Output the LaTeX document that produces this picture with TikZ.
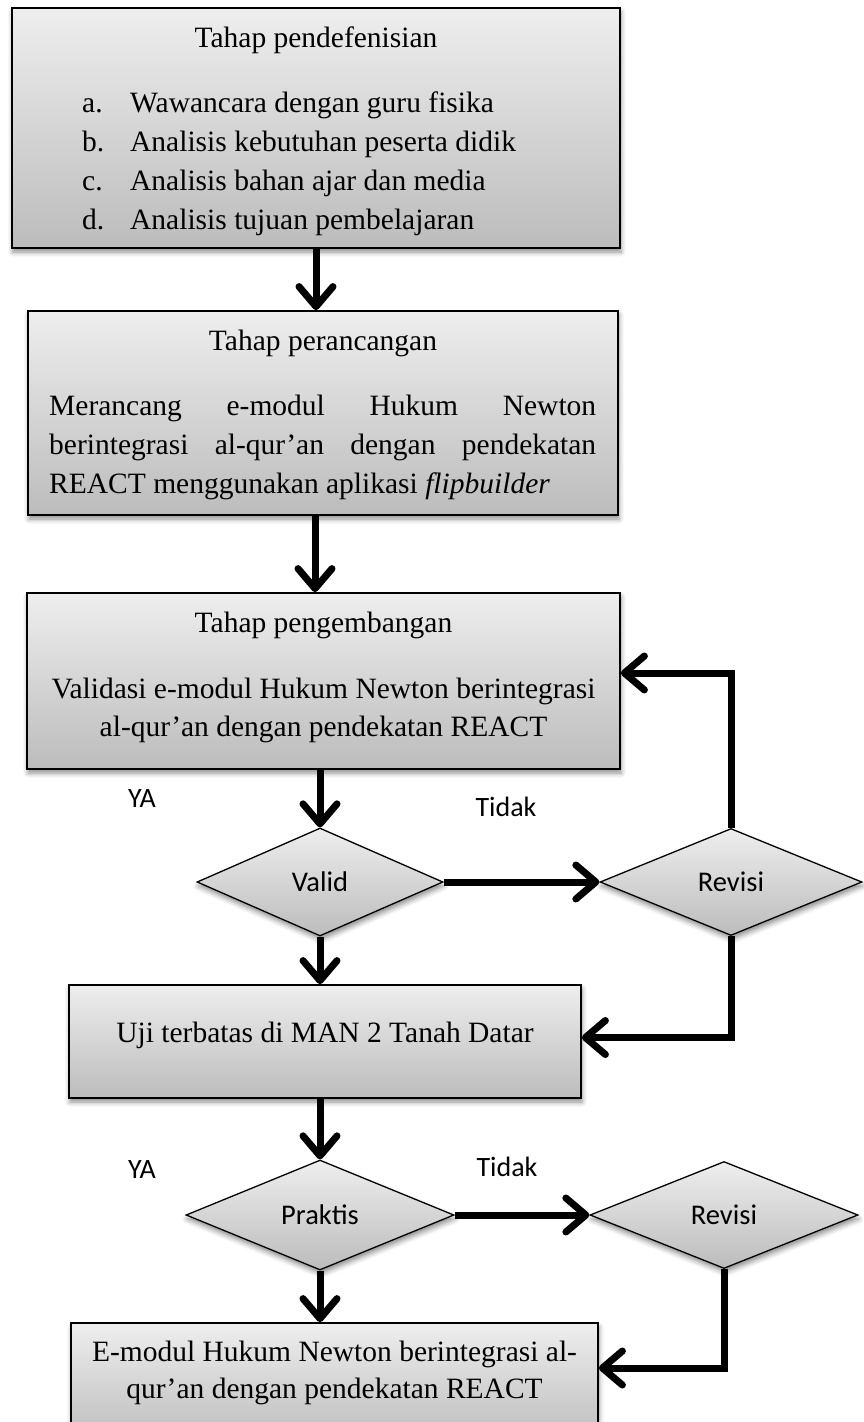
\documentclass[tikz,border=0pt]{standalone}
\usepackage{fontspec}
\setmainfont{Liberation Serif}
\newfontfamily\calfont{Carlito}
\usetikzlibrary{arrows.meta,shapes.geometric,shadows.blur}
\definecolor{gtop}{RGB}{238,238,238}
\definecolor{gbot}{RGB}{188,188,188}
\tikzset{
  shad/.style={blur shadow={shadow xshift=1pt, shadow yshift=-4pt, shadow blur radius=5pt, shadow opacity=45}},
  box/.style={rectangle, draw=black, line width=1.8pt, top color=gtop, bottom color=gbot, inner sep=0pt, shad},
  dia/.style={diamond, draw=black, line width=1.3pt, top color=gtop, bottom color=gbot, inner sep=0pt, shad, font=\calfont\fontsize{28.5}{32}\selectfont},
  txt/.style={inner sep=0pt, font=\fontsize{29.5}{39}\selectfont},
  lbl/.style={inner sep=0pt, font=\calfont\fontsize{28}{32}\selectfont},
  flow/.style={line width=7pt, -{Straight Barb[length=20pt,width=34pt,round]}, line join=miter},
}
\begin{document}
\begin{tikzpicture}[x=1pt,y=-1pt]
\useasboundingbox (0,0) rectangle (863,1422);
% boxes
\node[box, minimum width=608pt, minimum height=240pt] (B1) at (316,128) {};
\node[box, minimum width=590pt, minimum height=204pt] (B2) at (323,413) {};
\node[box, minimum width=593pt, minimum height=176pt] (B3) at (323.5,681) {};
\node[box, minimum width=512pt, minimum height=113pt] (B4) at (325,1041.5) {};
\node[box, minimum width=527pt, minimum height=120pt] (B5) at (334.5,1383) {};
% diamonds
\node[dia, minimum width=246pt, minimum height=108pt] (V) at (320,882) {Valid};
\node[dia, minimum width=262pt, minimum height=107pt] (R1) at (731,882) {Revisi};
\node[dia, minimum width=268pt, minimum height=110pt] (P) at (320,1215) {Praktis};
\node[dia, minimum width=268pt, minimum height=107pt] (R2) at (724,1215) {Revisi};
% box 1 text
\node[txt, anchor=base] (t1) at (316,47) {Tahap pendefenisian};
\node[txt, anchor=base west] (la) at (82,112) {\makebox[48pt][l]{a.}Wawancara dengan guru fisika};
\node[txt, anchor=base west] (lb) at (82,151) {\makebox[48pt][l]{b.}Analisis kebutuhan peserta didik};
\node[txt, anchor=base west] (lc) at (82,190) {\makebox[48pt][l]{c.}Analisis bahan ajar dan media};
\node[txt, anchor=base west] (ld) at (82,229) {\makebox[48pt][l]{d.}Analisis tujuan pembelajaran};
% box 2 text
\node[txt, anchor=base] (t2) at (323,350) {Tahap perancangan};
\node[txt, anchor=base west] (m1) at (49,415) {\makebox[547pt][s]{Merancang e-modul Hukum Newton}};
\node[txt, anchor=base west] (m2) at (49,454) {\makebox[547pt][s]{berintegrasi al-qur’an dengan pendekatan}};
\node[txt, anchor=base west] (m3) at (49,493) {REACT menggunakan aplikasi \textit{flipbuilder}};
% box 3 text
\node[txt, anchor=base] (t3) at (323.5,632) {Tahap pengembangan};
\node[txt, anchor=base] (v1) at (323.5,698) {Validasi e-modul Hukum Newton berintegrasi};
\node[txt, anchor=base] (v2) at (323.5,736) {al-qur’an dengan pendekatan REACT};
% box 4 text
\node[txt, anchor=base] (u1) at (325,1042) {Uji terbatas di MAN 2 Tanah Datar};
% box 5 text
\node[txt, anchor=base] (e1) at (334.5,1361) {E-modul Hukum Newton berintegrasi al-};
\node[txt, anchor=base] (e2) at (334.5,1398) {qur’an dengan pendekatan REACT};
% labels
\node[lbl] (ya1) at (142,799) {YA};
\node[lbl] (td1) at (506,807) {Tidak};
\node[lbl] (ya2) at (142,1170) {YA};
\node[lbl] (td2) at (507,1167) {Tidak};
% connectors
\draw[flow] (B1.south) -- (B1.south |- B2.north);
\draw[flow] ([xshift=-8pt]B2.south) -- ([xshift=-8pt]B2.south |- B3.north);
\draw[flow] (V.north |- B3.south) -- (V.north);
\draw[flow] (V.south) -- (V.south |- B4.north);
\draw[flow] (P.north |- B4.south) -- (P.north);
\draw[flow] (P.south) -- (P.south |- B5.north);
\draw[flow] (V.east) -- (R1.west);
\draw[flow] (P.east) -- (R2.west);
\draw[flow] (R1.north) |- ([yshift=8pt]B3.east);
\draw[flow] (R1.south) |- ([yshift=4pt]B4.east);
\draw[flow] (R2.south) |- ([yshift=15pt]B5.east);
\end{tikzpicture}
\end{document}
